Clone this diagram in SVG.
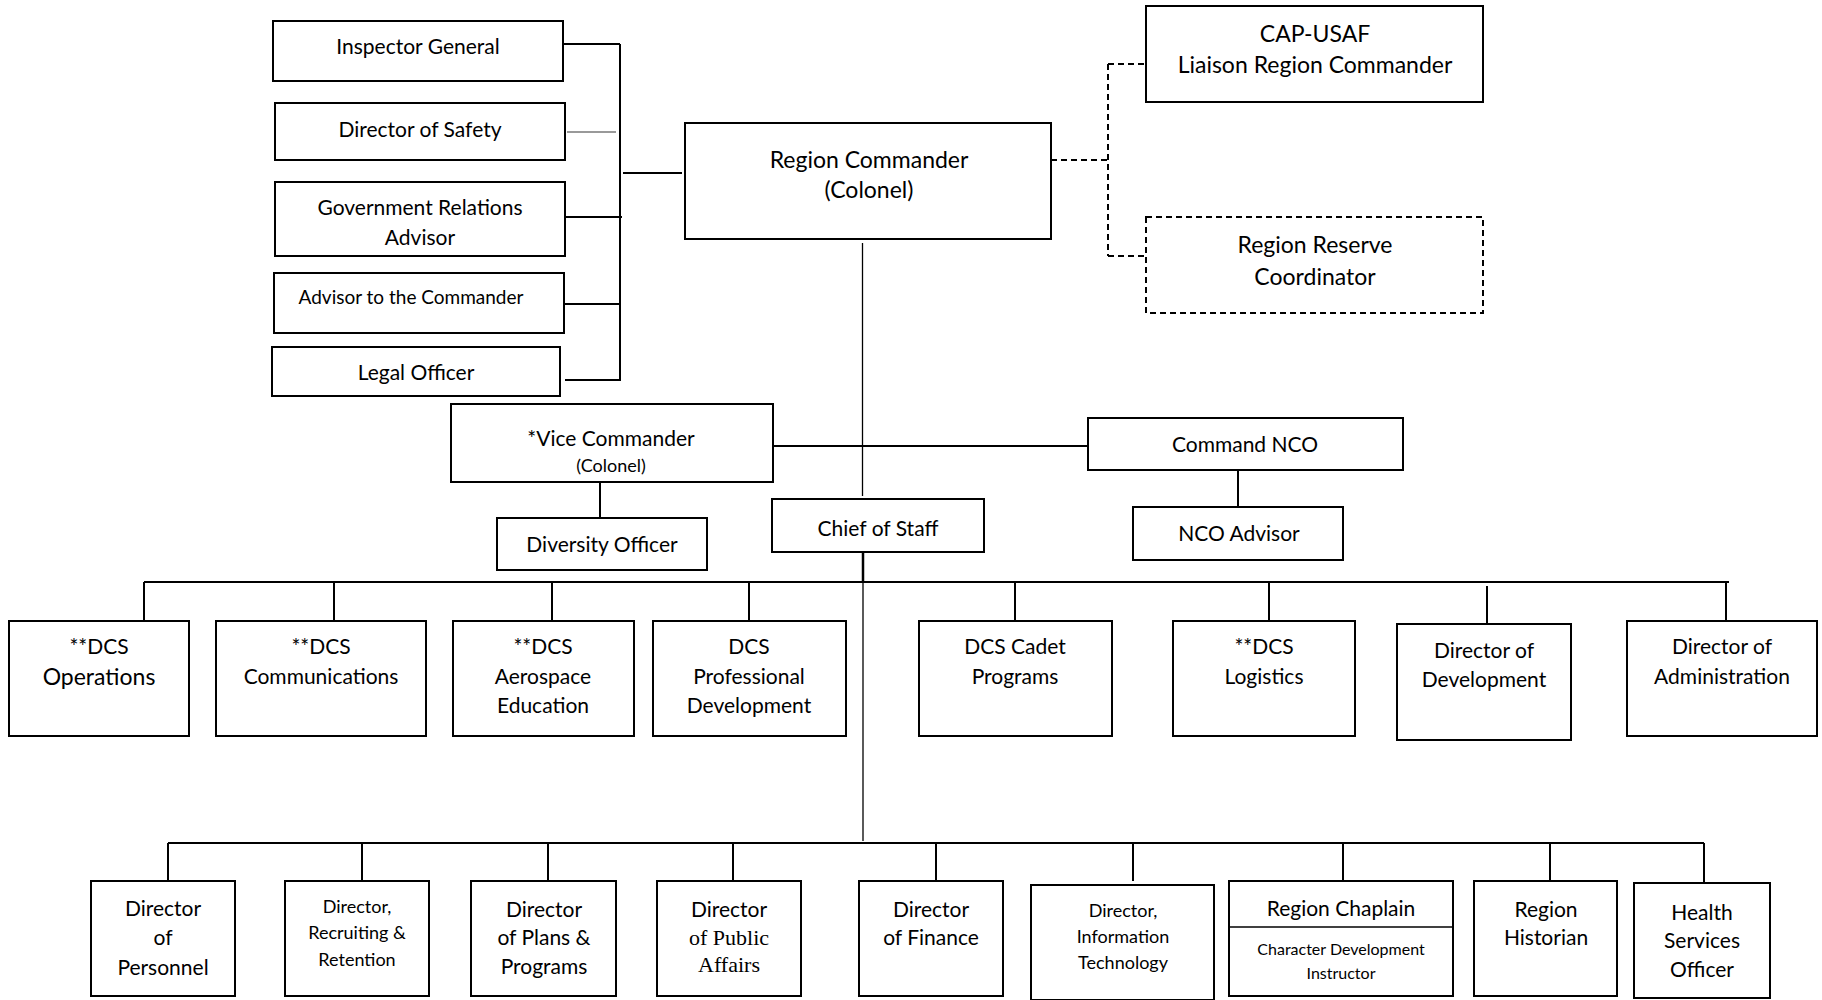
<svg xmlns="http://www.w3.org/2000/svg" width="1822" height="1000" viewBox="0 0 1822 1000">
<style>
.b{fill:#fff;stroke:#000;stroke-width:2}
.d{fill:#fff;stroke:#000;stroke-width:2;stroke-dasharray:6 4}
.t{font-family:Lato,"Open Sans",sans-serif;font-size:21px;fill:#000;text-anchor:middle}
.s{font-size:18px}
.xs{font-size:16px}
.l{font-size:23px}
.serif{font-family:"Liberation Serif",serif;font-size:22px}
.c line,.c path{stroke:#000;stroke-width:2;fill:none}
.c .thin{stroke-width:1.3}
.c .gray{stroke:#777;stroke-width:1.3}
.c .dash{stroke-dasharray:6 4}
</style>
<g class="c" id="connectors">
<path d="M620 44V380M563 44H620M565 217H622M564 304H620M565 380H621M623 173H682"/>
<path class="gray" d="M567 132H616"/>
<path class="dash" d="M1051 160H1108M1108 64V256M1108 64H1146M1108 256H1146"/>
<path class="thin" d="M862.5 243V496"/>
<path d="M772 446H1088M600 482V518M1238 470V507"/>
<path d="M863 552V582" style="stroke-width:2.5"/>
<path class="thin" d="M863 582V841"/>
<path d="M144 582H1729M144 582V621M334 582V621M552 582V621M749 582V621M1015 582V621M1269 582V621M1487 586V624M1726 582V621"/>
<path d="M168 843H1704M168 843V881M362 843V881M548 843V881M733 843V881M936 843V881M1133 843V881M1343 843V881M1550 843V881M1704 843V883"/>
</g>
<g id="inspector-general"><rect class="b" x="273" y="21" width="290" height="60"/><text class="t" x="418" y="54">Inspector General</text></g>
<g id="director-safety"><rect class="b" x="275" y="103" width="290" height="57"/><text class="t" x="420" y="137">Director of Safety</text></g>
<g id="gov-relations"><rect class="b" x="275" y="182" width="290" height="74"/><text class="t" x="420" y="215">Government Relations</text><text class="t" x="420" y="245">Advisor</text></g>
<g id="advisor-commander"><rect class="b" x="274" y="273" width="290" height="60"/><text class="t" x="411" y="304" style="font-size:19px">Advisor to the Commander</text></g>
<g id="legal-officer"><rect class="b" x="272" y="347" width="288" height="49"/><text class="t" x="416" y="380">Legal Officer</text></g>
<g id="region-commander"><rect class="b" x="685" y="123" width="366" height="116"/><text class="t l" x="869" y="168">Region Commander</text><text class="t l" x="869" y="198">(Colonel)</text></g>
<g id="cap-usaf"><rect class="b" x="1146" y="6" width="337" height="96"/><text class="t l" x="1315" y="42">CAP-USAF</text><text class="t l" x="1315" y="73">Liaison Region Commander</text></g>
<g id="reserve-coordinator"><rect class="d" x="1146" y="217" width="337" height="96"/><text class="t l" x="1315" y="253">Region Reserve</text><text class="t l" x="1315" y="285">Coordinator</text></g>
<g id="vice-commander"><rect class="b" x="451" y="404" width="322" height="78"/><text class="t" x="611" y="446">*Vice Commander</text><text class="t s" x="611" y="472">(Colonel)</text></g>
<g id="command-nco"><rect class="b" x="1088" y="418" width="315" height="52"/><text class="t" x="1245" y="452">Command NCO</text></g>
<g id="diversity-officer"><rect class="b" x="497" y="518" width="210" height="52"/><text class="t" x="602" y="552">Diversity Officer</text></g>
<g id="chief-of-staff"><rect class="b" x="772" y="499" width="212" height="53"/><text class="t" x="878" y="536">Chief of Staff</text></g>
<g id="nco-advisor"><rect class="b" x="1133" y="507" width="210" height="53"/><text class="t" x="1239" y="541">NCO Advisor</text></g>
<g id="dcs-operations"><rect class="b" x="9" y="621" width="180" height="115"/><text class="t" x="99" y="654">**DCS</text><text class="t l" x="99" y="685">Operations</text></g>
<g id="dcs-communications"><rect class="b" x="216" y="621" width="210" height="115"/><text class="t" x="321" y="654">**DCS</text><text class="t" x="321" y="684">Communications</text></g>
<g id="dcs-aerospace"><rect class="b" x="453" y="621" width="181" height="115"/><text class="t" x="543" y="654">**DCS</text><text class="t" x="543" y="684">Aerospace</text><text class="t" x="543" y="713">Education</text></g>
<g id="dcs-profdev"><rect class="b" x="653" y="621" width="193" height="115"/><text class="t" x="749" y="654">DCS</text><text class="t" x="749" y="684">Professional</text><text class="t" x="749" y="713">Development</text></g>
<g id="dcs-cadet"><rect class="b" x="919" y="621" width="193" height="115"/><text class="t" x="1015" y="654">DCS Cadet</text><text class="t" x="1015" y="684">Programs</text></g>
<g id="dcs-logistics"><rect class="b" x="1173" y="621" width="182" height="115"/><text class="t" x="1264" y="654">**DCS</text><text class="t" x="1264" y="684">Logistics</text></g>
<g id="director-development"><rect class="b" x="1397" y="624" width="174" height="116"/><text class="t" x="1484" y="658">Director of</text><text class="t" x="1484" y="687">Development</text></g>
<g id="director-administration"><rect class="b" x="1627" y="621" width="190" height="115"/><text class="t" x="1722" y="654">Director of</text><text class="t" x="1722" y="684">Administration</text></g>
<g id="director-personnel"><rect class="b" x="91" y="881" width="144" height="115"/><text class="t" x="163" y="916">Director</text><text class="t" x="163" y="945">of</text><text class="t" x="163" y="975">Personnel</text></g>
<g id="director-recruiting"><rect class="b" x="285" y="881" width="144" height="115"/><text class="t s" x="357" y="913">Director,</text><text class="t s" x="357" y="939">Recruiting &amp;</text><text class="t s" x="357" y="966">Retention</text></g>
<g id="director-plans"><rect class="b" x="471" y="881" width="145" height="115"/><text class="t" x="544" y="917">Director</text><text class="t" x="544" y="945">of Plans &amp;</text><text class="t" x="544" y="974">Programs</text></g>
<g id="director-public-affairs"><rect class="b" x="657" y="881" width="144" height="115"/><text class="t" x="729" y="917">Director</text><text class="t serif" x="729" y="945">of Public</text><text class="t serif" x="729" y="972">Affairs</text></g>
<g id="director-finance"><rect class="b" x="859" y="881" width="144" height="115"/><text class="t" x="931" y="917">Director</text><text class="t" x="931" y="945">of Finance</text></g>
<g id="director-it"><rect class="b" x="1031" y="885" width="183" height="115"/><text class="t s" x="1123" y="917">Director,</text><text class="t s" x="1123" y="943">Information</text><text class="t s" x="1123" y="969">Technology</text></g>
<g id="region-chaplain"><rect class="b" x="1229" y="881" width="224" height="115"/><line x1="1229" y1="927" x2="1453" y2="927" stroke="#000" stroke-width="1.5"/><text class="t" x="1341" y="916">Region Chaplain</text><text class="t xs" x="1341" y="955">Character Development</text><text class="t xs" x="1341" y="979">Instructor</text></g>
<g id="region-historian"><rect class="b" x="1474" y="881" width="143" height="115"/><text class="t" x="1546" y="917">Region</text><text class="t" x="1546" y="945">Historian</text></g>
<g id="health-services"><rect class="b" x="1634" y="883" width="136" height="115"/><text class="t" x="1702" y="920">Health</text><text class="t" x="1702" y="948">Services</text><text class="t" x="1702" y="977">Officer</text></g>
</svg>
